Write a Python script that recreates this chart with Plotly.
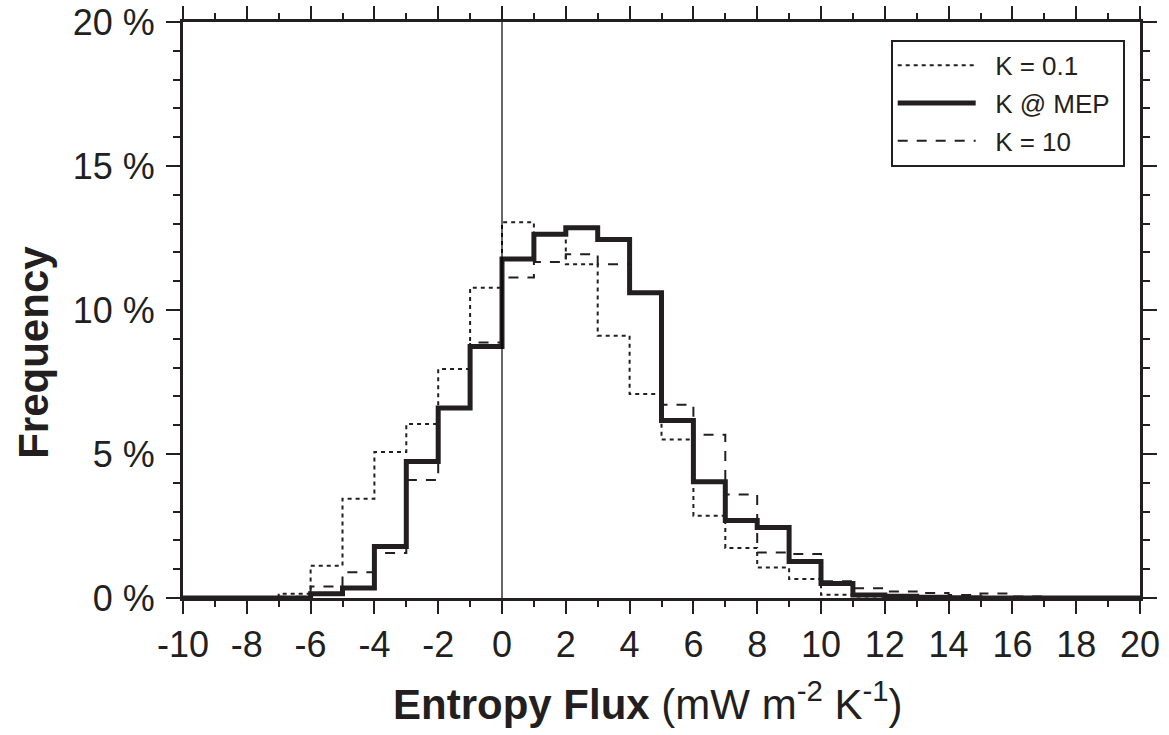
import plotly.graph_objects as go

# bin left edges (width 1) from -10 to 19; last edge 20
bin_left = list(range(-10, 20))
bin_right_end = 20

k01 = [0, 0, 0, 0.15, 1.12, 3.45, 5.07, 6.04, 7.95, 10.77,
       13.05, 12.6, 11.59, 9.11, 7.08, 5.5, 2.86, 1.74, 1.06, 0.66,
       0.11, 0.05, 0.03, 0.01, 0, 0, 0, 0, 0, 0]
k_mep = [0, 0, 0, 0, 0.15, 0.35, 1.79, 4.74, 6.6, 8.73,
         11.77, 12.63, 12.86, 12.45, 10.6, 6.16, 4.04, 2.69, 2.45, 1.27,
         0.5, 0.1, 0.06, 0.03, 0.01, 0, 0, 0, 0, 0]
k10 = [0, 0, 0, 0.04, 0.4, 0.89, 1.56, 4.1, 6.6, 8.87,
       11.13, 11.67, 11.94, 11.59, 10.6, 6.71, 5.67, 3.59, 1.58, 1.53,
       0.58, 0.34, 0.23, 0.17, 0.1, 0.16, 0.05, 0, 0, 0]

x_tick_vals = list(range(-10, 21, 2))
x_tick_text = [str(v) for v in x_tick_vals]  # plain hyphen minus
y_tick_vals = [0, 5, 10, 15, 20]
y_tick_text = ["0 %", "5 %", "10 %", "15 %", "20 %"]

names = ["K = 0.1", "K @ MEP", "K = 10"]
x_title = "<b>Entropy Flux</b> (mW m<sup>-2</sup> K<sup>-1</sup>)"
y_title = "<b>Frequency</b>"

FONT = "Liberation Sans, Arial, Helvetica, sans-serif"
INK = "#231f20"
LPAD = "\u00a0\u00a0"
RPAD = "\u00a0"

xs = bin_left + [bin_right_end]


def steps(vals):
    return vals + [vals[-1]]


fig = go.Figure()
fig.add_trace(go.Scatter(x=xs, y=steps(k01), mode="lines", name=LPAD + names[0] + RPAD, legendgroup="a",
                         line=dict(shape="hv", color=INK, width=2, dash="4px,4px")))
fig.add_trace(go.Scatter(x=xs, y=steps(k_mep), mode="lines", name=LPAD + names[1] + RPAD, legendgroup="b",
                         line=dict(shape="hv", color=INK, width=5)))
fig.add_trace(go.Scatter(x=xs, y=steps(k10), mode="lines", name=LPAD + names[2] + RPAD, legendgroup="c",
                         line=dict(shape="hv", color=INK, width=2, dash="10px,9px")))

fig.add_vline(x=0, line=dict(color="black", width=1.2))

fig.update_layout(
    width=1169, height=735,
    margin=dict(l=183, r=29, t=22, b=137, autoexpand=False),
    paper_bgcolor="white", plot_bgcolor="white",
    font=dict(family=FONT, color=INK, size=28),
    showlegend=True,
    legend=dict(x=0.984, y=0.969, xanchor="right", yanchor="top",
                bgcolor="white", bordercolor=INK, borderwidth=2,
                font=dict(size=26, family=FONT, color=INK),
                itemwidth=78, tracegroupgap=1),
    annotations=[
        dict(text=x_title, xref="paper", yref="paper", x=0.486, y=-0.179,
             xanchor="center", yanchor="middle", showarrow=False,
             font=dict(size=42, family=FONT, color=INK)),
        dict(text=y_title, xref="paper", yref="paper", x=-0.157, y=0.427,
             xanchor="center", yanchor="middle", showarrow=False, textangle=-90,
             font=dict(size=42, family=FONT, color=INK)),
    ],
)
fig.update_xaxes(
    range=[-10, 20], tickvals=x_tick_vals, ticktext=x_tick_text, showgrid=False, zeroline=False,
    showline=True, linecolor=INK, linewidth=3, mirror="ticks",
    ticks="outside", ticklen=13, tickwidth=2, tickcolor=INK,
    minor=dict(dtick=1, ticks="outside", ticklen=6, tickwidth=2, tickcolor=INK, showgrid=False),
    tickfont=dict(size=36, family=FONT, color=INK), ticklabelstandoff=0,
)
fig.update_yaxes(
    range=[0, 20], tickvals=y_tick_vals, ticktext=y_tick_text, showgrid=False, zeroline=False,
    showline=True, linecolor=INK, linewidth=3, mirror="ticks",
    ticks="outside", ticklen=14, tickwidth=2, tickcolor=INK,
    minor=dict(dtick=1, ticks="outside", ticklen=7, tickwidth=2, tickcolor=INK, showgrid=False),
    tickfont=dict(size=36, family=FONT, color=INK), ticklabelstandoff=4,
)

fig.write_html("out.html")
